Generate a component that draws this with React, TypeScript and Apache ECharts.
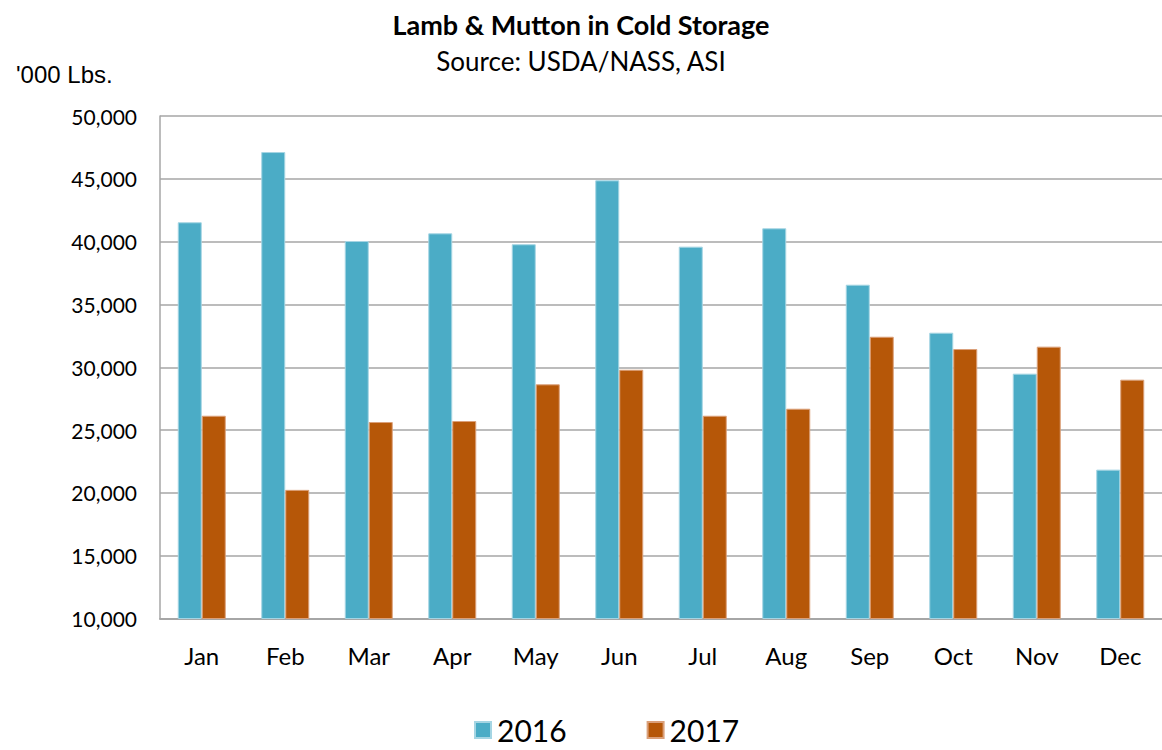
import React, { useEffect, useRef } from "react";
import * as echarts from "echarts";

const months = ["Jan", "Feb", "Mar", "Apr", "May", "Jun", "Jul", "Aug", "Sep", "Oct", "Nov", "Dec"];
const values2016 = [41540, 47130, 40050, 40660, 39790, 44880, 39600, 41060, 36570, 32750, 29490, 21850];
const values2017 = [26140, 20240, 25640, 25720, 28640, 29800, 26140, 26700, 32430, 31450, 31640, 29010];
const yTicks = { min: 10000, max: 50000, interval: 5000 };

const FONT = "Lato, 'Noto Sans', sans-serif";

export default function App() {
  const ref = useRef<HTMLDivElement>(null);
  useEffect(() => {
    if (!ref.current) return;
    const chart = echarts.init(ref.current, undefined, { renderer: "svg" });
    chart.setOption({
      animation: false,
      backgroundColor: "#ffffff",
      title: [
        {
          text: "Lamb & Mutton in Cold Storage",
          left: "center",
          top: 6,
          textStyle: { fontFamily: FONT, fontWeight: "bold", fontSize: 27, color: "#000" },
        },
        {
          text: "Source: USDA/NASS, ASI",
          left: "center",
          top: 43,
          textStyle: { fontFamily: FONT, fontWeight: "normal", fontSize: 26, color: "#000" },
        },
        {
          text: "'000 Lbs.",
          left: 11,
          top: 57,
          textStyle: { fontFamily: "'Liberation Sans', Arial, sans-serif", fontWeight: "normal", fontSize: 24, color: "#000" },
        },
      ],
      legend: {
        data: ["2016", "2017"],
        left: 474,
        top: 714,
        padding: 0,
        itemWidth: 16,
        itemHeight: 16,
        itemGap: 80,
        icon: "rect",
        textStyle: { fontFamily: FONT, fontSize: 30, lineHeight: 32, color: "#000", padding: [0, 0, 0, 1] },
      },
      grid: { left: 160, top: 116, right: -12, bottom: 131.5 },
      xAxis: {
        type: "category",
        data: months,
        axisLine: { show: true, lineStyle: { color: "#a6a6a6", width: 2 } },
        axisTick: { show: false },
        axisLabel: { fontFamily: FONT, fontSize: 24, color: "#000", margin: 25 },
      },
      yAxis: {
        type: "value",
        min: yTicks.min,
        max: yTicks.max,
        interval: yTicks.interval,
        axisLine: { show: true, lineStyle: { color: "#a6a6a6", width: 1.5 } },
        axisTick: { show: false },
        splitLine: { lineStyle: { color: "#a6a6a6", width: 1.5 } },
        axisLabel: {
          fontFamily: FONT,
          fontSize: 21,
          color: "#000",
          margin: 23,
          formatter: (v: number) => v.toLocaleString("en-US"),
        },
      },
      series: [
        {
          name: "2016",
          type: "bar",
          data: values2016,
          barWidth: 24,
          barGap: "0%",
          itemStyle: { color: "#4bacc6", borderColor: "#a5d5e3", borderWidth: 1 },
        },
        {
          name: "2017",
          type: "bar",
          data: values2017,
          barWidth: 24,
          barGap: "0%",
          itemStyle: { color: "#b65708", borderColor: "#dba07a", borderWidth: 1 },
        },
      ],
    });
    return () => chart.dispose();
  }, []);
  return (
    <div
      ref={ref}
      style={{ position: "fixed", left: 0, top: 0, width: 1162, height: 750 }}
    />
  );
}
